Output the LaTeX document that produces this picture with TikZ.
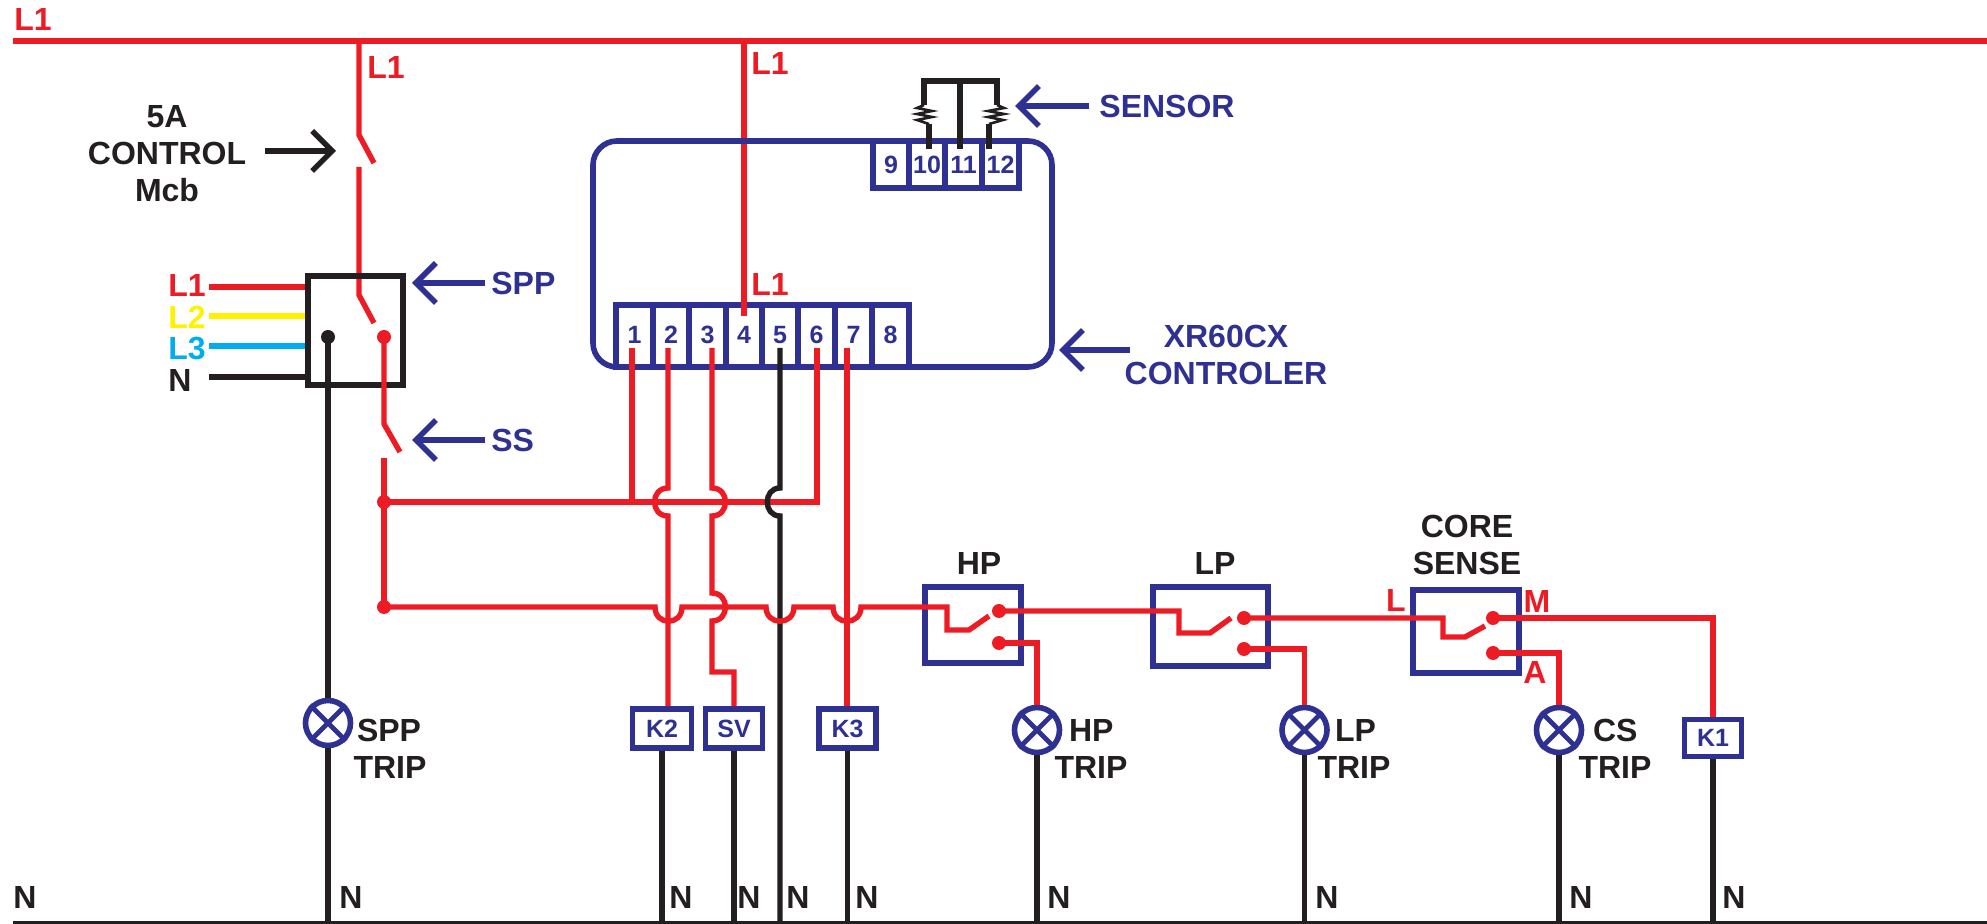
\documentclass[tikz,border=0pt]{standalone}
\usepackage{fontspec}
\setmainfont{Liberation Sans}
\usetikzlibrary{arrows.meta}
\definecolor{lred}{HTML}{ED1C24}
\definecolor{lnavy}{HTML}{2E3192}
\definecolor{lblack}{HTML}{231F20}
\definecolor{lyellow}{HTML}{FFF200}
\definecolor{lcyan}{HTML}{00AEEF}
\tikzset{
  wr/.style={draw=lred,line width=2.7pt},
  wk/.style={draw=lblack,line width=2.7pt},
  wy/.style={draw=lyellow,line width=2.7pt},
  wc/.style={draw=lcyan,line width=2.7pt},
  nv/.style={draw=lnavy,line width=2.8pt},
  spring/.style={draw=lblack,line width=1.3pt},
  lbl/.style={font=\bfseries\fontsize{16}{18.5}\selectfont,inner sep=0pt,text height=11.5pt,text depth=0pt,text=lblack},
  lblb/.style={lbl,text=lnavy},
  lblr/.style={lbl,text=lred},
  multi/.style={font=\bfseries\fontsize{16}{18.5}\selectfont,inner sep=0pt,align=center,text=lblack},
  term/.style={nv,rectangle,minimum width=18.3pt,inner sep=0pt,text=lnavy,font=\bfseries\fontsize{12.5}{14}\selectfont,text height=9pt},
  kbox/.style={nv,rectangle,fill=white,inner sep=0pt,text=lnavy,font=\bfseries\fontsize{12.5}{14}\selectfont,text height=9pt,text depth=0pt},
  swbox/.style={nv,rectangle,inner sep=0pt},
  lampc/.style={nv,circle,fill=white,minimum size=22.5pt,inner sep=0pt},
  dotr/.style={circle,fill=lred,minimum size=7pt,inner sep=0pt},
  dotk/.style={circle,fill=lblack,minimum size=7pt,inner sep=0pt},
  arrk/.style={wk,-{Straight Barb[length=10pt,width=20pt,line width=2.7pt]}},
  arrb/.style={nv,-{Straight Barb[length=10pt,width=20pt,line width=2.8pt]}},
}
\newcommand{\lampnode}[3]{%
  \node[lampc] (#1) at (#2,#3) {};
  \draw[nv,line width=2.4pt] (#1.45) -- (#1.225) (#1.135) -- (#1.315);
}
\begin{document}
\begin{tikzpicture}[x=0.5pt,y=-0.5pt]
\useasboundingbox (0,0) rectangle (1987,924);
\fill[white] (0,0) rectangle (1987,924);
% supply rails
\coordinate (busL) at (13,41);
\coordinate (busR) at (1987,41);
\coordinate (nL) at (13,923);
\coordinate (nR) at (1987,923);
\draw[wr] (busL) -- (busR);
\draw[wk,line width=2pt] (nL) -- (nR);
% labels on the rails
\node[lblr,anchor=west] (l1top) at (14,19) {L1};
\node[lblr,anchor=west] (l1a) at (367,67) {L1};
\node[lblr,anchor=west] (l1b) at (751,63) {L1};
\node[lblr,anchor=west] (l1c) at (751,284) {L1};
% MCB
\coordinate (mcbT) at (359,41);
\coordinate (mcbA) at (359,135);
\coordinate (mcbB) at (374,163);
\coordinate (mcbC) at (359,167);
\coordinate (sppA) at (359,295);
\coordinate (sppB) at (374,323);
\draw[wr,line join=bevel] (mcbT) -- (mcbA) -- (mcbB);
\draw[wr,line join=bevel] (mcbC) -- (sppA) -- (sppB);
\node[multi] (mcbT2) at (167,154) {5A\\CONTROL\\Mcb};
\coordinate (mcbTip) at (336,151);
\draw[arrk] (mcbT2.east |- mcbTip) ++(18,0) -- (mcbTip);
% SPP
\node[swbox,draw=lblack,minimum width=47.5pt,minimum height=54.5pt] (spp) at (355.5,330.5) {};
\node[lblr,anchor=west] (tL1) at (168,285) {L1};
\node[lbl,text=lyellow,anchor=west] (tL2) at (168,317) {L2};
\node[lbl,text=lcyan,anchor=west] (tL3) at (168,348) {L3};
\node[lbl,anchor=west] (tN) at (168,380) {N};
\draw[wr] (209,287) -- (spp.west |- 0,287);
\draw[wy] (209,316) -- (spp.west |- 0,316);
\draw[wc] (209,346) -- (spp.west |- 0,346);
\draw[wk] (209,377) -- (spp.west |- 0,377);
\node[dotk] (sppK) at (328,337) {};
\node[dotr] (sppR) at (384,337) {};
\node[lblb,anchor=west] (sppT) at (491,283) {SPP};
\coordinate (sppTip) at (412,283);
\draw[arrb] (sppT.west) ++(-6,0) -- (sppTip);
% SS
\coordinate (ssA) at (384,424);
\coordinate (ssB) at (400,452);
\coordinate (ssC) at (384,458);
\draw[wr,line join=bevel] (sppR.center) -- (ssA) -- (ssB);
\node[lblb,anchor=west] (ssT) at (491,440) {SS};
\coordinate (ssTip) at (412,440);
\draw[arrb] (ssT.west) ++(-6,0) -- (ssTip);
% controller terminals
\foreach \n/\x in {1/634.5,2/671,3/707.5,4/744,5/780,6/816.5,7/853.5,8/890.5}
  \node[term,minimum height=31pt,text depth=1.5pt] (t\n) at (\x,336) {\n};
\foreach \n/\x in {9/891,10/927,11/963.5,12/1000.5}
  \node[term,minimum height=23.5pt] (t\n) at (\x,164.5) {\n};
% wire L1 to terminal 4
\coordinate (w4T) at (744,41);
\coordinate (w4B) at (744,316);
\draw[wr] (w4T) -- (w4B);
% controller outline
\node[nv,rectangle,rounded corners=12pt,minimum width=229.5pt,minimum height=113pt,inner sep=0pt] (ctrl) at (822.5,254) {};
\node[multi,text=lnavy] (ctrlT) at (1226,355) {XR60CX\\CONTROLER};
\coordinate (ctrlTip) at (1059,350);
\coordinate (ctrlS) at (1130,350);
\draw[arrb] (ctrlS) -- (ctrlTip);
% sensor
\coordinate (seL) at (924,81);
\coordinate (seR) at (997,81);
\coordinate (seM) at (960,81);
\coordinate (seLa) at (924,105);
\coordinate (seRa) at (997,105);
\coordinate (seLb) at (929,124);
\coordinate (seRb) at (989,124);
\coordinate (seLc) at (929,149);
\coordinate (seMc) at (960,149);
\coordinate (seRc) at (989,149);
\draw[wk,line join=miter] (seLa) -- (seL) -- (seR) -- (seRa);
\draw[wk] (seM) -- (seMc);
\draw[spring] (seLa) -- (917,108) -- (932,111) -- (917,114) -- (932,117) -- (917,120) -- (seLb);
\draw[spring] (seRa) -- (1004,108) -- (988,111) -- (1004,114) -- (988,117) -- (1003,120) -- (seRb);
\draw[wk] (seLb) -- (seLc);
\draw[wk] (seRb) -- (seRc);
\node[lblb,anchor=west] (senT) at (1099,106) {SENSOR};
\coordinate (senTip) at (1015,106);
\draw[arrb] (senT.west) ++(-10,0) -- (senTip);
% relays
\node[kbox,minimum width=29.5pt,minimum height=19.5pt] (k2) at (662,728.5) {K2};
\node[kbox,minimum width=28.5pt,minimum height=19.5pt] (sv) at (734,728.5) {SV};
\node[kbox,minimum width=28.5pt,minimum height=19.5pt] (k3) at (847.5,728.5) {K3};
% pressure switches
\node[swbox,minimum width=48pt,minimum height=38pt] (hp) at (973,625) {};
\node[swbox,minimum width=57.5pt,minimum height=39.5pt] (lp) at (1210.5,626.5) {};
\node[swbox,minimum width=53pt,minimum height=41.5pt] (core) at (1466,631.5) {};
\node[lbl] (hpT) at (979,563) {HP};
\node[lbl] (lpT) at (1215,563) {LP};
\node[multi] (coreT) at (1467,545) {CORE\\SENSE};
\node[lblr] (coreL) at (1396,600) {L};
\node[lblr] (coreM) at (1537,601) {M};
\node[lblr] (coreA) at (1535,672) {A};
% upper and lower bus
\coordinate (w1) at (632,348);
\coordinate (w2) at (668,348);
\coordinate (w3) at (712,348);
\coordinate (w5) at (780,348);
\coordinate (w6) at (817,348);
\coordinate (w7) at (847,348);
\node[dotr] (jU) at (384,502) {};
\node[dotr] (jL) at (384,607) {};
\draw[wr] (ssC) -- (jL.center);
\draw[wr,line join=miter] (jU.center) -- (817,502) -- (w6);
\draw[wr] (w1) -- (632,502);
% wire 2
\draw[wr] (w2) -- (668,488) .. controls +(-18,0) and +(-18,0) .. (668,516) -- (k2.north -| w2);
% wire 3
\draw[wr] (w3) -- (712,488) .. controls +(18,0) and +(18,0) .. (712,516) -- (712,593) .. controls +(18,0) and +(18,0) .. (712,621) -- (712,672) -- (734,672) -- (sv.north);
% wire 5
\draw[wk] (w5) -- (780,488) .. controls +(-17,0) and +(-17,0) .. (780,516) -- (780,923);
% wire 7
\draw[wr] (w7) -- (k3.north -| w7);
% lower bus with hops
\draw[wr,line join=miter] (jL.center) -- (655,607) .. controls +(0,19) and +(0,19) .. (682,607) -- (766,607) .. controls +(0,19) and +(0,19) .. (794,607) -- (833,607) .. controls +(0,19) and +(0,19) .. (861,607) -- (947,607) -- (947,630) -- (969,630) -- (989,616);
\node[dotr] (hpU) at (999,611) {};
\node[dotr] (hpD) at (999,643) {};
\node[dotr] (lpU) at (1244,618) {};
\node[dotr] (lpD) at (1244,649) {};
\node[dotr] (csU) at (1493,618) {};
\node[dotr] (csD) at (1493,653) {};
% lamps
\lampnode{lampS}{328}{723}
\lampnode{lampH}{1037}{730}
\lampnode{lampL}{1304.5}{730}
\lampnode{lampC}{1559}{730}
\node[kbox,minimum width=28.5pt,minimum height=18.5pt] (k1) at (1713,738) {K1};
% switch wiring
\draw[wr,line join=miter] (hpU.center) -- (1179,611) -- (1179,633) -- (1210,633) -- (1231,618);
\draw[wr,line join=miter] (lpU.center) -- (1443,618) -- (1443,637) -- (1465,637) -- (1485,626);
\draw[wr,line join=miter] (hpD.center) -| (lampH.north);
\draw[wr,line join=miter] (lpD.center) -| (lampL.north);
\draw[wr,line join=miter] (csD.center) -| (lampC.north);
\draw[wr,line join=miter] (csU.center) -| (k1.north);
% neutral drops
\draw[wk] (sppK.center) -- (lampS.north);
\draw[wk] (lampS.south) -- (lampS.south |- nL);
\draw[wk] (lampH.south) -- (lampH.south |- nL);
\draw[wk] (lampL.south) -- (lampL.south |- nL);
\draw[wk] (lampC.south) -- (lampC.south |- nL);
\draw[wk] (k2.south) -- (k2.south |- nL);
\draw[wk] (sv.south) -- (sv.south |- nL);
\draw[wk] (k3.south) -- (k3.south |- nL);
\draw[wk] (k1.south) -- (k1.south |- nL);
% lamp labels
\node[multi,anchor=center] (lsT) at (390,749) {\makebox[0pt][l]{\hspace{-16.5pt}SPP}\\TRIP};
\node[multi] (lhT) at (1091,749) {\makebox[0pt][l]{\hspace{-11pt}HP}\\TRIP};
\node[multi] (llT) at (1354,749) {\makebox[0pt][l]{\hspace{-9.5pt}LP}\\TRIP};
\node[multi] (lcT) at (1615,749) {\makebox[0pt][l]{\hspace{-11pt}CS}\\TRIP};
% N labels
\foreach \i/\x in {a/25,b/351,c/681,d/749,e/798,f/867,g/1059,h/1327,i/1581,j/1734}
  \node[lbl] (n\i) at (\x,897) {N};
\end{tikzpicture}
\end{document}
